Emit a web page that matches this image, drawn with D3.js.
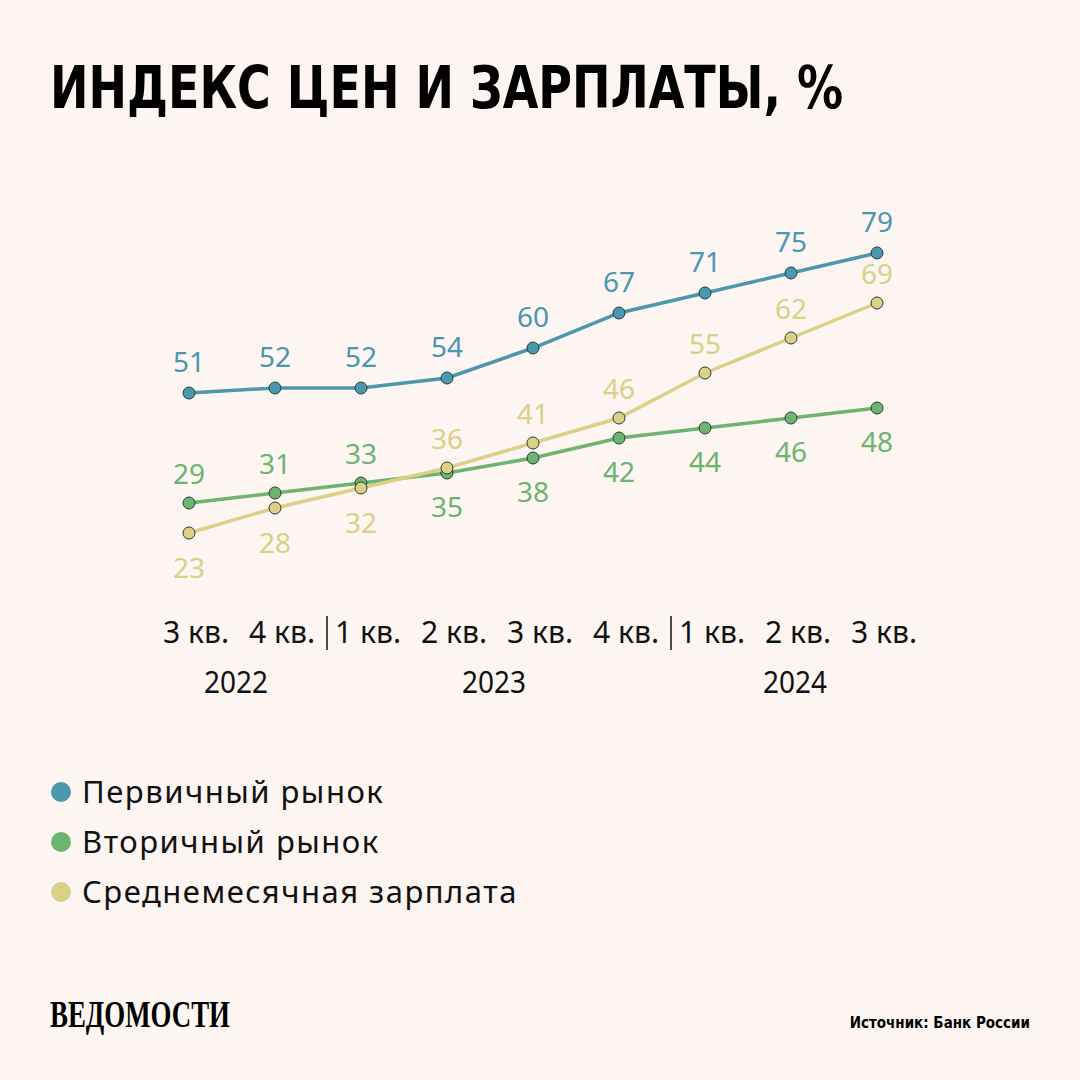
<!DOCTYPE html>
<html>
<head>
<meta charset="utf-8">
<script src="https://cdn.jsdelivr.net/npm/d3@7"></script>
<style>
    body { margin: 0; background: #fcf5f2; }
    svg { display: block; }
</style>
</head>
<body>
<div id="chart"></div>
<script>
var quarters = ["3 кв.", "4 кв.", "1 кв.", "2 кв.", "3 кв.", "4 кв.", "1 кв.", "2 кв.", "3 кв."];
var years = [
    {label: "2022", from: 0, to: 1},
    {label: "2023", from: 2, to: 5},
    {label: "2024", from: 6, to: 8}
];
var primary = [51, 52, 52, 54, 60, 67, 71, 75, 79];
var secondary = [29, 31, 33, 35, 38, 42, 44, 46, 48];
var salary = [23, 28, 32, 36, 41, 46, 55, 62, 69];
// label above (true) or below (false) each point
var secondaryAbove = [true, true, true, false, false, false, false, false, false];
var salaryAbove = [false, false, false, true, true, true, true, true, true];
var seriesNames = ["Первичный рынок", "Вторичный рынок", "Среднемесячная зарплата"];

var width = 1080, height = 1080;
var colors = {primary: "#4b97ae", secondary: "#6cb46f", salary: "#dccf86"};

var svg = d3.select("#chart").append("svg")
    .attr("width", width)
    .attr("height", height);

svg.append("rect")
    .attr("width", width)
    .attr("height", height)
    .attr("fill", "#fcf5f2");

// title
svg.append("text")
    .attr("x", 50)
    .attr("y", 108)
    .attr("textLength", 793)
    .attr("lengthAdjust", "spacingAndGlyphs")
    .text("ИНДЕКС ЦЕН И ЗАРПЛАТЫ, %")
    .style("font-family", "'DejaVu Sans Condensed', 'DejaVu Sans', sans-serif")
    .style("font-weight", "bold")
    .style("font-size", "58px")
    .attr("fill", "#000");

var x = d3.scalePoint()
    .domain(d3.range(quarters.length))
    .range([189, 877]);

var y = d3.scaleLinear()
    .domain([0, 100])
    .range([648, 148]);

var line = d3.line()
    .x(function(d, i) { return x(i); })
    .y(function(d) { return y(d); });

function drawSeries(values, color, above, upOff, downOff) {
    var g = svg.append("g");
    g.append("path")
        .datum(values)
        .attr("d", line)
        .attr("fill", "none")
        .attr("stroke", color)
        .attr("stroke-width", 3.5);
    g.selectAll("circle")
        .data(values)
        .enter().append("circle")
        .attr("cx", function(d, i) { return x(i); })
        .attr("cy", function(d) { return y(d); })
        .attr("r", 6)
        .attr("fill", color)
        .attr("stroke", "#2b3b3a")
        .attr("stroke-width", 1);
    g.selectAll("text")
        .data(values)
        .enter().append("text")
        .attr("x", function(d, i) { return x(i); })
        .attr("y", function(d, i) {
            return above[i] ? y(d) - upOff : y(d) + downOff;
        })
        .attr("text-anchor", "middle")
        .text(function(d) { return d; })
        .style("font-family", "'Noto Sans', sans-serif")
        .style("font-size", "28px")
        .attr("fill", color);
}

drawSeries(secondary, colors.secondary, secondaryAbove, 19, 44);
drawSeries(salary, colors.salary, salaryAbove, 19, 45);
drawSeries(primary, colors.primary, primary.map(function() { return true; }), 21, 44);

// x axis labels
var axis = svg.append("g");
axis.selectAll("text.q")
    .data(quarters)
    .enter().append("text")
    .attr("class", "q")
    .attr("x", function(d, i) { return x(i) + 7 - 33; })
    .attr("y", 643)
    .attr("textLength", 66)
    .attr("lengthAdjust", "spacingAndGlyphs")
    .text(function(d) { return d; })
    .style("font-family", "'Noto Sans', sans-serif")
    .style("font-size", "31px")
    .attr("fill", "#111");

// year separators
[2, 6].forEach(function(i) {
    var sx = (x(i - 1) + x(i)) / 2 + 9;
    axis.append("line")
        .attr("x1", sx).attr("x2", sx)
        .attr("y1", 616).attr("y2", 650)
        .attr("stroke", "#111")
        .attr("stroke-width", 1.5);
});

axis.selectAll("text.y")
    .data(years)
    .enter().append("text")
    .attr("class", "y")
    .attr("x", function(d) { return (x(d.from) + x(d.to)) / 2 + 4 - 32; })
    .attr("y", 693)
    .attr("textLength", 64)
    .attr("lengthAdjust", "spacingAndGlyphs")
    .text(function(d) { return d.label; })
    .style("font-family", "'Noto Sans', sans-serif")
    .style("font-size", "31px")
    .attr("fill", "#111");

// legend
var legendColors = [colors.primary, colors.secondary, colors.salary];
var legend = svg.append("g")
    .attr("transform", "translate(61,792)");
var legendEnts = legend.selectAll("g")
    .data(seriesNames)
    .enter().append("g")
    .attr("transform", function(d, i) { return "translate(0," + (50 * i) + ")"; });
legendEnts.append("circle")
    .attr("r", 10)
    .attr("fill", function(d, i) { return legendColors[i]; });
legendEnts.append("text")
    .attr("x", 21)
    .attr("y", 11)
    .text(function(d) { return d; })
    .style("font-family", "'Noto Sans', sans-serif")
    .style("font-size", "31px")
    .style("letter-spacing", "1.5px")
    .attr("fill", "#111");

// footer
svg.append("text")
    .attr("x", 50)
    .attr("y", 1027)
    .attr("textLength", 180)
    .attr("lengthAdjust", "spacingAndGlyphs")
    .text("ВЕДОМОСТИ")
    .style("font-family", "'Liberation Serif', serif")
    .style("font-weight", "bold")
    .style("font-size", "38px")
    .attr("fill", "#000");

svg.append("text")
    .attr("x", 1030)
    .attr("y", 1028)
    .attr("text-anchor", "end")
    .text("Источник: Банк России")
    .style("font-family", "'DejaVu Sans Condensed', sans-serif")
    .style("font-weight", "bold")
    .style("font-size", "15px")
    .attr("fill", "#000");
</script>
</body>
</html>
